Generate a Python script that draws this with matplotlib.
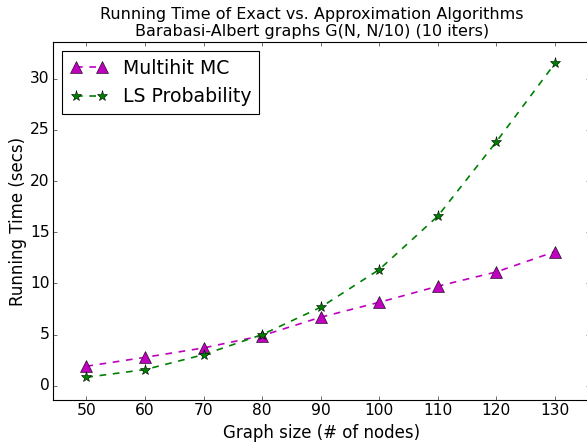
import matplotlib
matplotlib.use('Agg')
import matplotlib.pyplot as plt

# graph sizes (# of nodes)
sizes = [50, 60, 70, 80, 90, 100, 110, 120, 130]
# running times in seconds
multihit_mc = [1.9, 2.77, 3.69, 4.89, 6.69, 8.15, 9.72, 11.12, 13.1]
ls_prob = [0.82, 1.57, 3.03, 4.99, 7.66, 11.35, 16.57, 23.84, 31.5]

plt.style.use('classic')
fig = plt.figure(figsize=(587 / 80.0, 444 / 80.0), dpi=80)
# right spine sits just past the image edge, as in the original crop
ax = fig.add_axes([53 / 587.0, 44 / 444.0, 537 / 587.0, 358 / 444.0])

ax.plot(sizes, multihit_mc, 'm^--', markersize=10, lw=1.5, label='Multihit MC')
ax.plot(sizes, ls_prob, 'g*--', markersize=10, lw=1.5, label='LS Probability')

ax.set_xlim(44.3, 136)
ax.set_ylim(-1.4, 33.6)
ax.set_xticks(sizes)
ax.tick_params(labelsize=14, pad=3)
ax.set_xlabel('Graph size (# of nodes)', fontsize=15)
ax.set_ylabel('Running Time (secs)', fontsize=15, labelpad=3)
ax.set_title('Running Time of Exact vs. Approximation Algorithms\n'
             'Barabasi-Albert graphs G(N, N/10) (10 iters)', fontsize=14.4, x=0.482)
ax.legend(loc='upper left', fontsize=17)

fig.savefig('out.png', dpi=80)
